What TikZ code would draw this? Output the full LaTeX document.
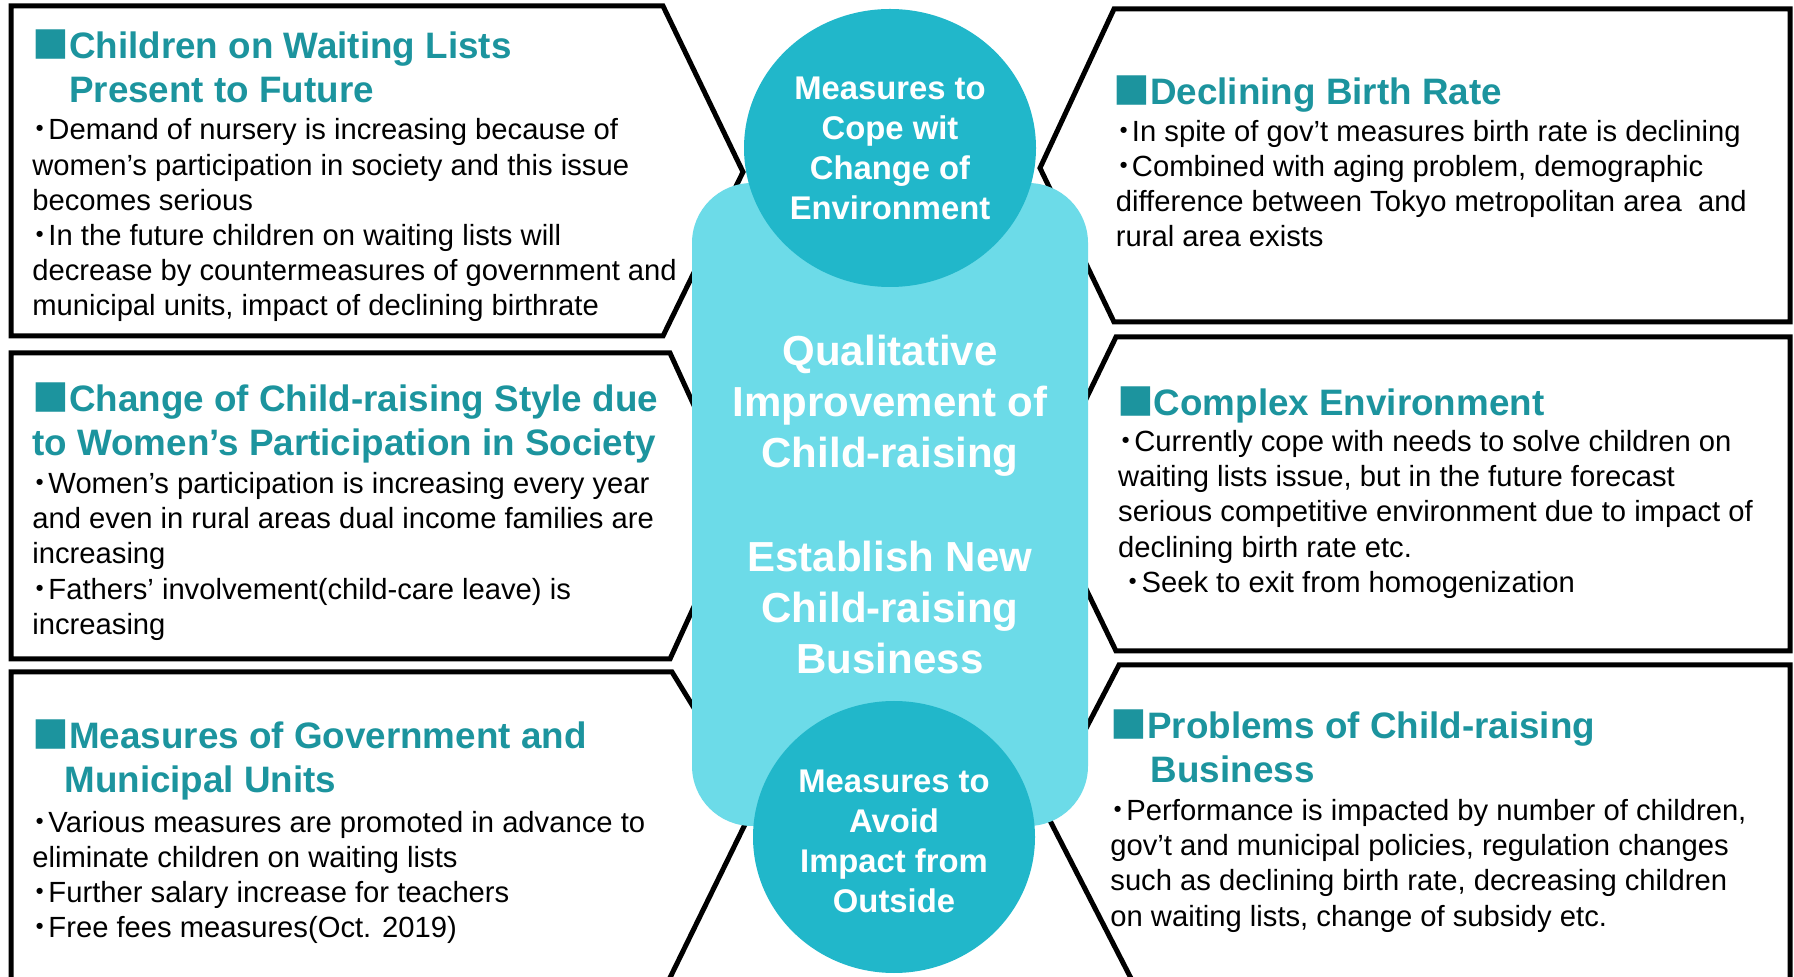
\documentclass[tikz,border=0pt]{standalone}
\usepackage{fontspec}
\setmainfont{Liberation Sans}
\newfontfamily\cjk{Noto Sans CJK JP}
\usepackage{tikz}
\usetikzlibrary{shapes.geometric}
\definecolor{hubcyan}{RGB}{108,219,232}
\definecolor{diskteal}{RGB}{33,183,202}
\definecolor{headteal}{RGB}{28,148,158}
\newcommand{\sq}{{\cjk ■}}
\newcommand{\bul}{\makebox[0.55em]{\cjk ・}}
\tikzset{
  panel/.style={draw=black, line width=2.5pt, fill=white},
  headtxt/.style={anchor=north west, inner sep=0pt, align=left, text=headteal, font=\fontsize{18.4}{22}\selectfont\bfseries},
  bodytxt/.style={anchor=north west, inner sep=0pt, align=left, font=\fontsize{14.6}{17.6}\selectfont},
  hubbox/.style={rectangle, rounded corners=30pt, fill=hubcyan, inner sep=0pt, align=center, text=white, minimum width=198pt, minimum height=321.5pt, font=\fontsize{21}{25.5}\selectfont\bfseries},
  diskbox/.style={ellipse, fill=diskteal, inner sep=0pt, align=center, text=white, font=\fontsize{16.4}{20}\selectfont\bfseries},
}
\begin{document}
\begin{tikzpicture}[x=0.5pt,y=-0.5pt]
  \useasboundingbox (0,0) rectangle (1794,977);
  \clip (0,0) rectangle (1794,977);
  % left panels
  \draw[panel] (11,6) -- (663,6) -- (743,172) -- (663,336) -- (11,336) -- cycle;
  \draw[panel] (11,353) -- (670,353) -- (740,506) -- (670,659) -- (11,659) -- cycle;
  \draw[panel] (11,672) -- (672,672) -- (754,806) -- (664,990) -- (11,990) -- cycle;
  % right panels
  \draw[panel] (1790,9) -- (1114,9) -- (1040,168) -- (1114,322) -- (1790,322) -- cycle;
  \draw[panel] (1790,337) -- (1116,337) -- (1040,494) -- (1116,651) -- (1790,651) -- cycle;
  \draw[panel] (1790,665) -- (1119,665) -- (1044,809) -- (1137,990) -- (1790,990) -- cycle;
  % centre
  \node[hubbox] (hub) at (890,504.5) {Qualitative\\Improvement of\\Child-raising\\[26.7pt]Establish New\\Child-raising\\Business};
  \node[diskbox, minimum width=146pt, minimum height=139pt] (cope) at (890,148) {Measures to\\Cope wit\\Change of\\Environment};
  \node[diskbox, minimum width=141pt, minimum height=136pt] (avoid) at (894,837) {};
  \node[diskbox, fill=none] (avoidtxt) at (894,841.6) {Measures to\\Avoid\\Impact from\\Outside};
  % left texts
  \node[headtxt] (waithead) at (32,29.7) {\sq Children on Waiting Lists\\\phantom{\sq}Present to Future};
  \node[bodytxt] (waittext) at (32,118.4) {\bul Demand of nursery is increasing because of\\women’s participation in society and this issue\\becomes serious\\\bul In the future children on waiting lists will\\decrease by countermeasures of government and\\municipal units, impact of declining birthrate};
  \node[headtxt] (stylehead) at (32,382) {\sq Change of Child-raising Style due\\to Women’s Participation in Society};
  \node[bodytxt] (styletext) at (32,471.9) {\bul Women’s participation is increasing every year\\and even in rural areas dual income families are\\increasing\\\bul Fathers’ involvement(child-care leave) is\\increasing};
  \node[headtxt] (govhead) at (32,719.5) {\sq Measures of Government and\\\hspace*{0.87em}Municipal Units};
  \node[bodytxt] (govtext) at (32,810.6) {\bul Various measures are promoted in advance to\\eliminate children on waiting lists\\\bul Further salary increase for teachers\\\bul Free fees measures(Oct. 2019)};
  % right texts
  \node[headtxt] (birthhead) at (1113,75.4) {\sq Declining Birth Rate};
  \node[bodytxt] (birthtext) at (1115.5,119.5) {\bul In spite of gov’t measures birth rate is declining\\\bul Combined with aging problem, demographic\\difference between Tokyo metropolitan area\ \ and\\rural area exists};
  \node[headtxt] (envhead) at (1116.6,386.5) {\sq Complex Environment};
  \node[bodytxt] (envtext) at (1117.8,430) {\bul Currently cope with needs to solve children on\\waiting lists issue, but in the future forecast\\serious competitive environment due to impact of\\declining birth rate etc.\\\hspace*{0.25em}\bul Seek to exit from homogenization};
  \node[headtxt] (bizhead) at (1110,709.3) {\sq Problems of Child-raising\\\hspace*{1.1em}Business};
  \node[bodytxt] (biztext) at (1110,799) {\bul Performance is impacted by number of children,\\gov’t and municipal policies, regulation changes\\such as declining birth rate, decreasing children\\on waiting lists, change of subsidy etc.};
\end{tikzpicture}
\end{document}
